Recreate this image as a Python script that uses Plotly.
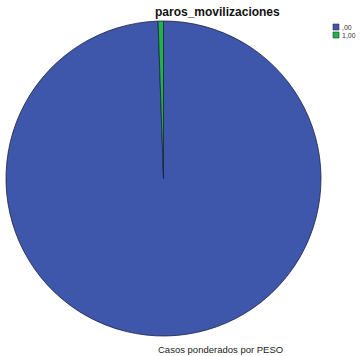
import plotly.graph_objects as go

categories = [",00", "1,00"]
values = [99.45, 0.55]
colors = ["#3F57AB", "#22B24C"]
title_text = "paros_movilizaciones"
footnote = "Casos ponderados por PESO"

W, H = 360, 356
fig = go.Figure()
fig.add_trace(go.Pie(
    labels=categories, values=values, sort=False, direction="clockwise", rotation=0,
    marker=dict(colors=colors, line=dict(color="#1c2240", width=0.8)),
    textinfo="none", hoverinfo="label+percent", showlegend=False,
    domain=dict(x=[6/W, 321/W], y=[1-336/H, 1-21/H]),
))

shapes = []
annotations = []
for i, (cat, col) in enumerate(zip(categories, colors)):
    y0 = 24 + i*8
    shapes.append(dict(type="rect", xref="paper", yref="paper",
                       x0=333/W, x1=339/W, y0=1-(y0+6)/H, y1=1-y0/H,
                       fillcolor=col, line=dict(color="#333333", width=0.6)))
    annotations.append(dict(text=cat, xref="paper", yref="paper", x=340/W, y=1-(y0+3)/H,
                            xanchor="left", yanchor="middle", showarrow=False, height=8,
                            font=dict(family="Liberation Sans, Arial", size=7, color="#333333")))

annotations.append(dict(text="<b>"+title_text+"</b>", xref="paper", yref="paper", x=218/W, y=1-12/H,
                        xanchor="center", yanchor="middle", showarrow=False,
                        font=dict(family="Liberation Sans, Arial", size=12, color="#111111")))
annotations.append(dict(text=footnote, xref="paper", yref="paper", x=220/W, y=1-349/H,
                        xanchor="center", yanchor="middle", showarrow=False,
                        font=dict(family="Liberation Sans, Arial", size=9.5, color="#222222")))

fig.update_layout(width=W, height=H, margin=dict(l=0, r=0, t=0, b=0),
                  paper_bgcolor="white", plot_bgcolor="white",
                  shapes=shapes, annotations=annotations)
fig.write_html("out.html")
